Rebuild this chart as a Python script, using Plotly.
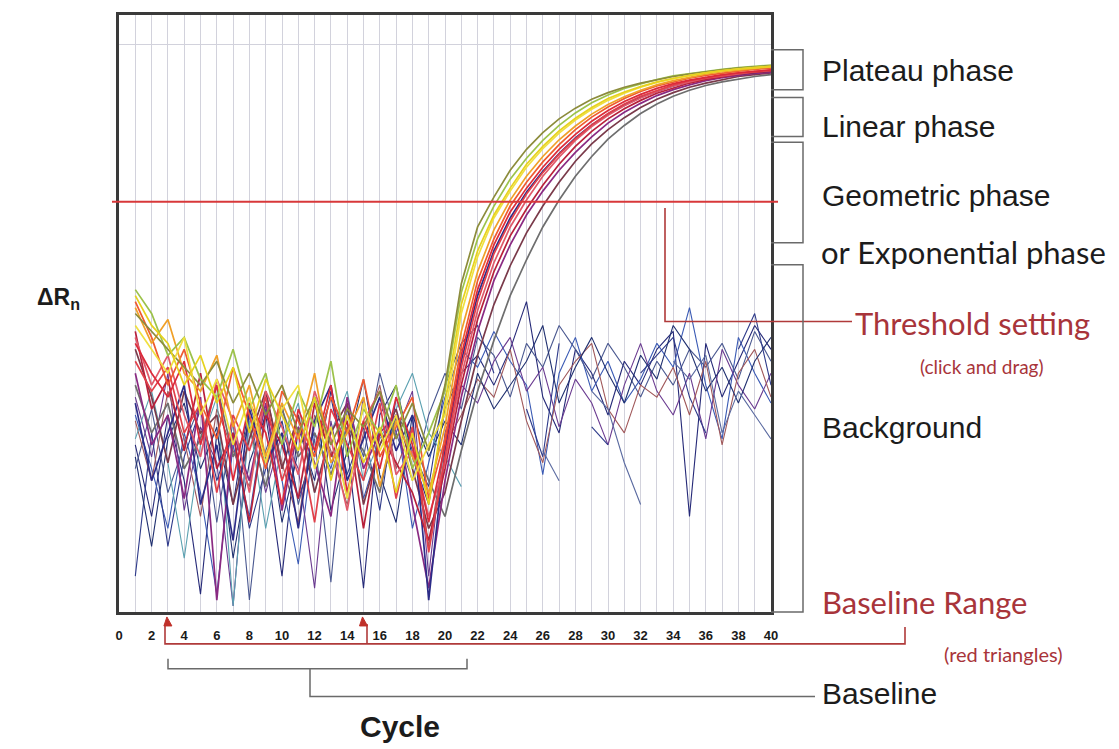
import plotly.graph_objects as go

# ---------------- DATA ----------------
cycles = list(range(1, 41))
x_tick_vals = [0, 2, 4, 6, 8, 10, 12, 14, 16, 18, 20, 22, 24, 26, 28, 30, 32, 34, 36, 38, 40]
x_tick_text = ["0", "2", "4", "6", "8", "10", "12", "14", "16", "18", "20",
               "22", "24", "26", "28", "30", "32", "34", "36", "38", "40"]
threshold = 68.7
baseline_range = [3, 15]

# amplifying samples (delta Rn, arbitrary units)
amp_olive = [50, 47, 44, 41, 38, 42, 35, 40, 33, 38, 30, 36, 28, 34, 31, 37, 29, 35, 27,
             38, 55, 64.5, 69.5, 74, 77.5, 80.3, 82.6, 84.4, 85.9, 87.0, 87.9, 88.6, 89.2, 89.7, 90.1, 90.5, 90.8, 91.1, 91.3, 91.5]
amp_yellow1 = [53, 48, 45, 38, 43, 35, 41, 30, 39, 33, 27, 36, 22, 33, 25, 31, 20, 30, 18,
               35, 51.5, 60.5, 66.5, 71, 75, 78, 80.6, 82.7, 84.5, 86, 87.1, 88, 88.8, 89.4, 89.9, 90.3, 90.7, 91.0, 91.2, 91.4]
amp_yellow2 = [48, 44, 40, 46, 33, 39, 28, 36, 25, 34, 38, 24, 31, 19, 35, 27, 33, 22, 28,
               33, 50, 59.5, 66, 70.5, 74.5, 77.6, 80.2, 82.4, 84.2, 85.7, 86.9, 87.9, 88.7, 89.3, 89.9, 90.3, 90.7, 91.0, 91.2, 91.4]
amp_orange = [51, 45, 49, 40, 37, 43, 31, 38, 26, 35, 29, 40, 25, 30, 36, 21, 32, 26, 20,
              31, 47, 57, 64, 69, 73, 76.3, 79.1, 81.4, 83.4, 85, 86.3, 87.4, 88.3, 89, 89.6, 90.1, 90.5, 90.8, 91.1, 91.3]
amp_lgreen = [54, 50, 43, 46, 39, 36, 44, 34, 40, 28, 37, 31, 42, 26, 34, 30, 38, 24, 30,
              37, 53.5, 62.5, 68, 72.5, 76, 79, 81.5, 83.6, 85.3, 86.6, 87.7, 88.5, 89.2, 89.8, 90.2, 90.6, 90.9, 91.2, 91.4, 91.6]
amp_red1 = [45, 40, 36, 42, 28, 38, 22, 35, 30, 18, 34, 27, 38, 20, 32, 24, 36, 28, 15,
            28, 43, 54, 61.5, 67, 71, 74.5, 77.5, 80, 82.2, 84, 85.5, 86.7, 87.7, 88.5, 89.1, 89.6, 90.0, 90.3, 90.6, 90.8]
amp_red2 = [42, 37, 41, 30, 35, 20, 33, 27, 36, 22, 30, 15, 34, 28, 22, 35, 19, 31, 10,
            26, 41, 52, 60, 65.5, 70, 73.6, 76.7, 79.3, 81.6, 83.5, 85.1, 86.4, 87.4, 88.3, 89, 89.5, 89.9, 90.3, 90.6, 90.8]
amp_crimson = [47, 34, 39, 27, 40, 24, 30, 15, 33, 28, 19, 35, 26, 32, 14, 30, 25, 20, 12,
               24, 38, 49, 57, 63, 67.5, 71.5, 75, 78, 80.5, 82.6, 84.3, 85.7, 86.9, 87.8, 88.6, 89.2, 89.7, 90.1, 90.4, 90.6]
amp_navy = [35, 22, 30, 38, 18, 28, 12, 34, 25, 30, 14, 32, 38, 22, 29, 36, 27, 33, 2,
            27, 42, 53, 60.5, 66, 70.3, 73.8, 76.8, 79.4, 81.6, 83.4, 84.9, 86.2, 87.2, 88.1, 88.8, 89.3, 89.8, 90.1, 90.4, 90.6]
amp_purple = [40, 28, 33, 19, 36, 2, 30, 22, 35, 17, 31, 25, 16, 36, 24, 30, 33, 18, 4,
              22, 36, 47, 55.5, 61.5, 66.5, 70.5, 74, 77, 79.6, 81.9, 83.7, 85.2, 86.5, 87.5, 88.3, 89, 89.5, 89.9, 90.2, 90.4]
amp_maroon = [44, 36, 25, 37, 30, 33, 18, 29, 37, 24, 33, 20, 30, 35, 18, 28, 34, 24, 14,
              20, 32, 43, 51.5, 58, 63.5, 68, 72, 75.5, 78.4, 80.8, 82.8, 84.5, 85.9, 87, 87.9, 88.6, 89.2, 89.7, 90.0, 90.3]
amp_gray = [38, 30, 35, 24, 29, 38, 26, 31, 21, 34, 26, 30, 23, 31, 27, 20, 33, 29, 22,
            16, 27, 37, 45.5, 53, 59, 64.5, 69, 73, 76.3, 79.2, 81.5, 83.5, 85.1, 86.4, 87.4, 88.2, 88.8, 89.3, 89.7, 90.0]
amp_pink = [46, 38, 43, 33, 26, 39, 32, 20, 37, 31, 23, 37, 29, 17, 32, 37, 23, 27, 16,
            25, 39.5, 50.5, 58.5, 64.5, 69, 73, 76.2, 79, 81.3, 83.2, 84.8, 86.1, 87.2, 88.1, 88.8, 89.4, 89.8, 90.2, 90.5, 90.7]
amp_orred = [52, 46, 38, 44, 35, 29, 41, 33, 24, 37, 32, 26, 36, 30, 39, 26, 31, 36, 19,
             29, 44.5, 55.5, 62.5, 68, 72, 75.4, 78.3, 80.8, 82.9, 84.6, 86, 87.2, 88.1, 88.8, 89.4, 89.9, 90.3, 90.6, 90.9, 91.1]

# non-amplifying samples (background noise)
noise_1 = [28, 16, 33, 22, 3, 30, 18, 35, 26, 6, 31, 22, 37, 28, 4, 33, 38, 26, 18,
           34, 40, 43, 38, 44, 52, 36, 30, 44, 40, 33, 42, 38, 44, 47, 16, 45, 36, 42, 48, 44]
noise_2 = [33, 24, 14, 30, 20, 3, 28, 16, 34, 22, 8, 30, 24, 35, 19, 28, 33, 14, 25,
           36, 44, 41, 47, 42, 38, 23, 40, 46, 37, 42, 35, 39, 45, 41, 51, 38, 29, 46, 40, 35]
noise_3 = [24, 34, 20, 28, 35, 15, 32, 2, 27, 35, 18, 29, 5, 34, 26, 40, 30, 22, 33,
           40, 34, 46, 43, 36, 45, 41, 48, 44, 39, 45, 41, 36, 42, 38, 44, 41, 45, 39, 47, 42]
noise_4 = [36, 26, 40, 17, 31, 25, 1, 33, 20, 30, 24, 4, 32, 19, 36, 21, 30, 37, 6,
           30, 38, 35, 42, 46, 37, 41, 31, 39, 35, 28, 38, 45, 37, 33, 40, 29, 44, 38, 34, 40]
noise_5 = [6, 30, 11, 26, 34, 22, 30, 14, 24, 32, 19, 27, 36, 23, 31, 17, 36, 27, 21,
           38, 45, 48, 40, None, 34, 26, 45, None, 31, 28, None, 40, 43, 46, 36, 30, None, 44, 50, 38]
noise_6 = [32, 22, 37, 29, 16, 34, 27, 21, 37, 25, 15, 33, 27, 18, 30, 38, 24, 31, 11,
           28, 33, 39, 36, 44, 32, 25, 38, 42, 45, 34, 30, 38, 36, 41, 33, 42, 28, 40, 44, 36]
noise_7 = [26, 11, 29, 35, 24, 31, 9, 25, 33, 15, 27, 36, 17, 27, 39, 23, 15, 33, 26,
           32, 28, 40, 34, 38, 42, 48, 35, 41, 46, 40, 35, 43, 39, 48, 44, 37, 41, 35, 42, 46]
noise_8 = [29, 37, 25, 9, 28, 36, 1, 32, 14, 28, 35, 20, 30, 37, 22, 29, 34, 40, 30,
           26, 21, None, None, None, None, None, None, None, None, None, None, None, None, None, None, None, None, None, None, None]
noise_9 = [None, None, None, None, None, None, None, None, None, None, None, None, None, None, None, None, None, None, None,
           None, None, None, None, None, None, 27, 22, None, 37, 34, 25, 18, None, 42, 39, 43, 30, 37, 33, 29]

# ---------------- STYLE ----------------
noise_series = [
    (noise_1, "#262a78"), (noise_2, "#3a5ab4"), (noise_3, "#4a5890"),
    (noise_4, "#6a3a90"), (noise_5, "#2e3a8a"), (noise_6, "#a0585a"),
    (noise_7, "#203070"), (noise_8, "#5aa0b0"), (noise_9, "#5a6aa0"),
]
amp_series = [
    (amp_gray, "#6e6e6e"), (amp_maroon, "#7a3a4a"), (amp_purple, "#8a2a82"),
    (amp_navy, "#2c2c88"), (amp_crimson, "#b8203a"), (amp_pink, "#e05a6a"),
    (amp_red2, "#e0404a"), (amp_red1, "#dc2a3a"), (amp_orred, "#ee5a30"),
    (amp_orange, "#f0a028"), (amp_lgreen, "#9cc24a"), (amp_olive, "#8c8c3c"),
    (amp_yellow2, "#f0e040"), (amp_yellow1, "#e6d21e"),
]

W, H = 1119, 749
L, R, T, B = 119, 771, 12, 612


def px(x):
    return (x - L) / (R - L)


def py(y):
    return (B - y) / (B - T)


fig = go.Figure()
for vals, col in noise_series:
    fig.add_trace(go.Scatter(x=cycles, y=vals, mode="lines",
                             line=dict(color=col, width=1.1), hoverinfo="skip"))
for vals, col in amp_series:
    fig.add_trace(go.Scatter(x=cycles, y=vals, mode="lines",
                             line=dict(color=col, width=1.7), hoverinfo="skip"))

line_gray = dict(color="#6a6a6a", width=1.5)
line_red = dict(color="#b03a3a", width=1.6)
shapes = []
# threshold line
shapes.append(dict(type="line", xref="paper", yref="y", x0=px(112), x1=px(778),
                   y0=threshold, y1=threshold, line=dict(color="#d8383a", width=2), layer="above"))
# threshold pointer
shapes.append(dict(type="path", xref="paper", yref="paper",
                   path=f"M {px(665)} {py(206)} L {px(665)} {py(320)} L {px(852)} {py(320)}",
                   line=line_red, layer="above"))
# phase brackets
for y0, y1 in [(47, 87), (95, 134), (140, 241), (263, 612)]:
    shapes.append(dict(type="path", xref="paper", yref="paper",
                       path=f"M {px(771)} {py(y0)} L {px(803)} {py(y0)} L {px(803)} {py(y1)} L {px(771)} {py(y1)}",
                       line=line_gray, layer="above"))
# baseline range red bracket
shapes.append(dict(type="path", xref="paper", yref="paper",
                   path=f"M {px(165)} {py(624)} L {px(165)} {py(644)} L {px(905)} {py(644)} L {px(905)} {py(627)}",
                   line=line_red))
shapes.append(dict(type="line", xref="paper", yref="paper",
                   x0=px(367), x1=px(367), y0=py(624), y1=py(644), line=line_red))
# baseline range red triangles (anchored at the baseline range cycles)
for c in baseline_range:
    shapes.append(dict(type="path", xref="x", yref="paper", xsizemode="pixel", ysizemode="pixel",
                       xanchor=c, yanchor=py(622), path="M -4 -4 L 4 -4 L -1 5 Z",
                       fillcolor="#c0302a", line=dict(color="#c0302a", width=1), layer="above"))
# baseline gray bracket
shapes.append(dict(type="path", xref="paper", yref="paper",
                   path=f"M {px(168)} {py(659)} L {px(168)} {py(669)} L {px(467)} {py(669)} L {px(467)} {py(659)}",
                   line=line_gray))
shapes.append(dict(type="path", xref="paper", yref="paper",
                   path=f"M {px(310)} {py(669)} L {px(310)} {py(697)} L {px(815)} {py(697)}",
                   line=line_gray))

black = "#1c1c1c"
red = "#a8343a"
arial = "Liberation Sans, Arial, sans-serif"
cal = "Lato, Carlito, sans-serif"
annots = []


def note(text, x, y, size, color, family, xanchor="left"):
    annots.append(dict(text=text, xref="paper", yref="paper", x=px(x), y=py(y),
                       xanchor=xanchor, yanchor="middle", showarrow=False,
                       font=dict(size=size, color=color, family=family)))


note("Plateau phase", 820, 68, 30, black, arial)
note("Linear phase", 820, 124, 30, black, arial)
note("Geometric phase", 820, 193, 30, black, arial)
note("or Exponential phase", 819, 250, 31, black, cal)
note("Threshold setting", 853, 322, 31, red, cal)
note("(click and drag)", 982, 365, 19, red, cal, "center")
note("Background", 820, 427, 30, black, arial)
note("Baseline Range", 820, 602, 31, red, cal)
note("(red triangles)", 1003, 654, 20, red, cal, "center")
note("Baseline", 820, 694, 30, black, arial)
note("<b>ΔR<sub>n</sub></b>", 58, 297, 23, black, arial, "center")
note("<b>Cycle</b>", 400, 727, 30, black, arial, "center")

fig.update_layout(
    width=W, height=H,
    margin=dict(l=L, r=W - R, t=T, b=H - B, pad=0),
    paper_bgcolor="white", plot_bgcolor="white",
    showlegend=False,
    shapes=shapes, annotations=annots,
    xaxis=dict(range=[0, 40], tickmode="array", tickvals=x_tick_vals, ticktext=x_tick_text,
               showgrid=True, gridcolor="#d2d2dc", gridwidth=1,
               minor=dict(tickmode="linear", tick0=0, dtick=1, showgrid=True,
                          gridcolor="#d2d2dc", gridwidth=1),
               zeroline=False, showline=True, mirror=True, linecolor="#3a3a3a", linewidth=2.5,
               ticks="", ticklabelstandoff=10,
               tickfont=dict(family="Liberation Sans Narrow, Liberation Sans, sans-serif",
                             size=13, color="#1a1a1a", weight="bold")),
    yaxis=dict(range=[0, 100], tickmode="array", tickvals=[95], showticklabels=False,
               showgrid=True, gridcolor="#d2d2dc", gridwidth=1,
               zeroline=False, showline=True, mirror=True, linecolor="#3a3a3a", linewidth=2.5,
               ticks=""),
)

fig.write_html("out.html", config={"displayModeBar": False})
